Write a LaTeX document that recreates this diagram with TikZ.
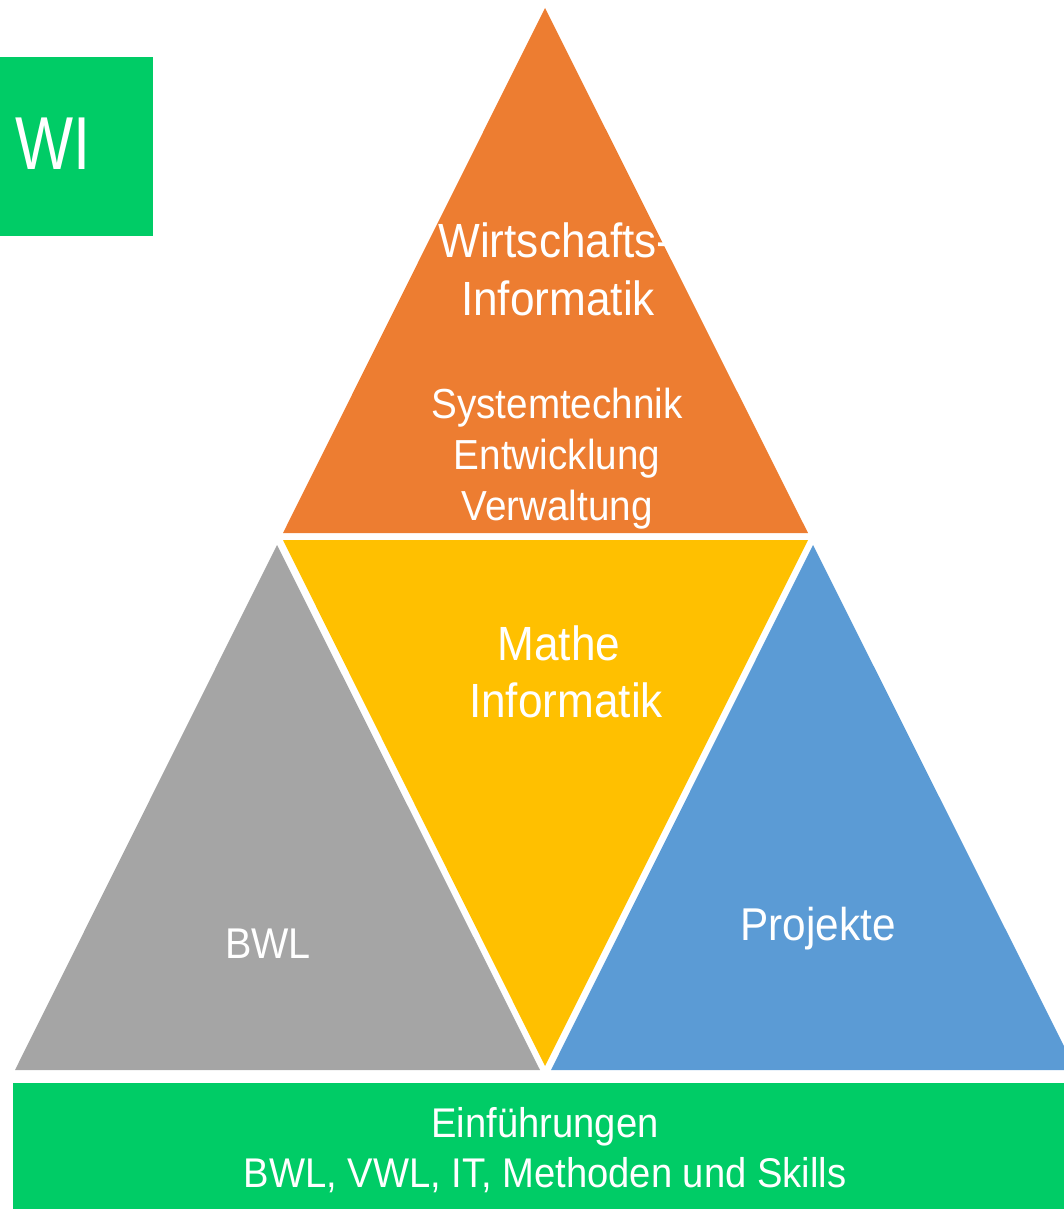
\documentclass[tikz,border=0pt]{standalone}
\usepackage{fontspec}
\setmainfont{Liberation Sans}
\newfontfamily\narrowfont[FakeStretch=0.92]{Liberation Sans}
\newfontfamily\wifont[FakeStretch=0.82]{Liberation Sans}
\definecolor{orangeT}{HTML}{ED7D31}
\definecolor{yellowT}{HTML}{FFC000}
\definecolor{greyT}{HTML}{A5A5A5}
\definecolor{blueT}{HTML}{5B9BD5}
\definecolor{greenT}{HTML}{00CC66}
\begin{document}
\begin{tikzpicture}[x=1pt,y=-1pt,
  lbl/.style={text=white,inner sep=0pt,anchor=base},
  big/.style={font=\narrowfont\fontsize{48}{57}\selectfont},
  mid/.style={font=\narrowfont\fontsize{42}{51}\selectfont},
  bwlf/.style={font=\narrowfont\fontsize{43}{50}\selectfont},
  projf/.style={font=\narrowfont\fontsize{46}{50}\selectfont},
  botf/.style={font=\narrowfont\fontsize{41.5}{50}\selectfont}]
\useasboundingbox (0,0) rectangle (1064,1209);
\clip (0,0) rectangle (1064,1209);
% corner coordinates
\coordinate (oT) at (545,8);   \coordinate (oL) at (283,533);  \coordinate (oR) at (808,533);
\coordinate (yL) at (283,540); \coordinate (yR) at (808,540);  \coordinate (yB) at (545,1066);
\coordinate (gT) at (277,545); \coordinate (gL) at (15,1070);  \coordinate (gR) at (540,1070);
\coordinate (bT) at (813,545); \coordinate (bL) at (551,1070); \coordinate (bR) at (1076,1070);
% shapes
\fill[orangeT] (oT) -- (oL) -- (oR) -- cycle;
\fill[yellowT] (yL) -- (yR) -- (yB) -- cycle;
\fill[greyT] (gT) -- (gL) -- (gR) -- cycle;
\fill[blueT] (bT) -- (bL) -- (bR) -- cycle;
\fill[greenT] (13,1083) rectangle (1070,1209);
\fill[greenT] (0,57) rectangle (153,236);
% texts
\node[lbl,anchor=base west,font=\wifont\fontsize{75}{80}\selectfont] (wi) at (15,170) {WI};
\node[lbl,big] (wirt1) at (555,257) {Wirtschafts-};
\node[lbl,big] (wirt2) at (558,315) {Informatik};
\node[lbl,mid] (sys1) at (557,418) {Systemtechnik};
\node[lbl,mid] (sys2) at (557,469) {Entwicklung};
\node[lbl,mid] (sys3) at (557,520) {Verwaltung};
\node[lbl,big] (mathe1) at (559,660) {Mathe};
\node[lbl,big] (mathe2) at (566,717) {Informatik};
\node[lbl,bwlf] (bwl) at (268,958) {BWL};
\node[lbl,projf] (proj) at (818,940) {Projekte};
\node[lbl,botf] (einf1) at (545,1137) {Einführungen};
\node[lbl,botf] (einf2) at (545,1187) {BWL, VWL, IT, Methoden und Skills};
\end{tikzpicture}
\end{document}
